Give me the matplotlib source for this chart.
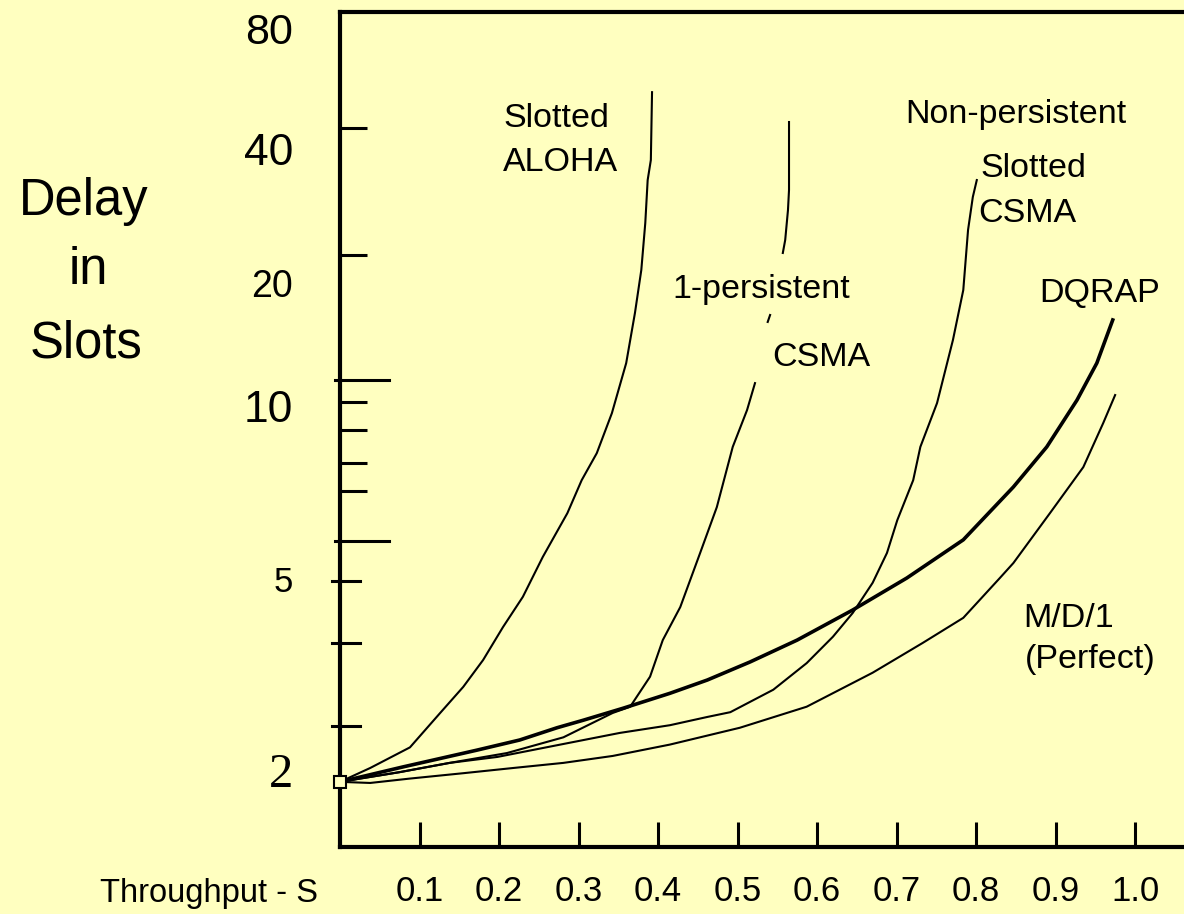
import numpy as np
import matplotlib
matplotlib.use('Agg')
import matplotlib.pyplot as plt
from matplotlib.font_manager import FontProperties, findfont

# ── data: throughput S vs delay in slots ─────────────────────────
aloha_s = [0.0, 0.038, 0.088, 0.126, 0.155, 0.180, 0.205, 0.230, 0.255, 0.286,
           0.304, 0.323, 0.342, 0.360, 0.371, 0.379, 0.384, 0.387, 0.391, 0.3925]
aloha_d = [1.89, 2.02, 2.23, 2.63, 2.98, 3.39, 3.97, 4.59, 5.46, 6.51,
           7.43, 8.28, 9.72, 12.74, 16.89, 21.39, 27.28, 34.07, 37.79, 55.4]

# 1-persistent CSMA (drawn in three pieces, gaps as NaN)
persist1_s = [0.0, 0.075, 0.138, 0.210, 0.281, 0.343, 0.365, 0.390, 0.406, 0.428,
              0.453, 0.474, 0.494, 0.512, 0.522, np.nan,
              0.538, 0.541, np.nan,
              0.557, 0.560, 0.5635, 0.5648, 0.5648]
persist1_d = [1.89, 1.98, 2.07, 2.17, 2.34, 2.63, 2.71, 3.13, 3.73, 4.37,
              5.55, 6.67, 8.49, 9.84, 11.38, np.nan,
              16.06, 16.70, np.nan,
              23.36, 24.98, 29.18, 32.36, 46.7]

nonpersist_s = [0.0, 0.075, 0.138, 0.198, 0.289, 0.352, 0.415, 0.462, 0.491, 0.545,
                0.587, 0.620, 0.645, 0.670, 0.688, 0.701, 0.721, 0.730, 0.751, 0.771,
                0.784, 0.790, 0.796, 0.801]
nonpersist_d = [1.89, 1.98, 2.07, 2.13, 2.28, 2.39, 2.48, 2.58, 2.64, 2.94,
                3.34, 3.79, 4.25, 4.91, 5.55, 6.33, 7.43, 8.49, 10.17, 14.51,
                19.22, 26.31, 31.21, 34.07]

dqrap_s = [0.0, 0.079, 0.172, 0.226, 0.273, 0.306, 0.356, 0.415, 0.462, 0.516,
           0.575, 0.645, 0.713, 0.784, 0.847, 0.889, 0.927, 0.952, 0.972]
dqrap_d = [1.89, 2.03, 2.20, 2.31, 2.45, 2.54, 2.69, 2.89, 3.08, 3.36,
           3.73, 4.31, 5.02, 5.85, 7.23, 8.49, 10.34, 12.74, 16.24]

md1_s = [0.0, 0.038, 0.088, 0.155, 0.218, 0.281, 0.343, 0.415, 0.503, 0.587,
         0.670, 0.733, 0.784, 0.830, 0.847, 0.893, 0.935, 0.960, 0.975]
md1_d = [1.89, 1.88, 1.92, 1.97, 2.02, 2.07, 2.14, 2.26, 2.45, 2.71,
         3.19, 3.68, 4.15, 5.02, 5.33, 6.51, 7.83, 9.34, 10.64]

x_ticks = [0.1, 0.2, 0.3, 0.4, 0.5, 0.6, 0.7, 0.8, 0.9, 1.0]
x_ticklabels = ['0.1', '0.2', '0.3', '0.4', '0.5', '0.6', '0.7', '0.8', '0.9', '1.0']
y_labels = [2, 5, 10, 20, 40, 80]
y_marks = [7.11, 7.96, 9.08, 10.23, 23.12, 45.11]      # short inner marks
y_marks_cross = [2.47, 3.68, 4.95]                    # marks crossing the axis
y_marks_long = [5.82, 11.58]                          # long crossing marks

# ── hand-drawn y axis: log scale stretched piecewise between labels ──
ANCHOR_V = np.log10([1.0, 2, 5, 10, 20, 40, 80, 200])
ANCHOR_P = [-0.0808, 0.0922, 0.3210, 0.5281, 0.6755, 0.8359, 0.9808, 1.1724]


def fwd(v):
    v = np.clip(np.asarray(v, dtype=float), 1e-3, None)
    return np.interp(np.log10(v), ANCHOR_V, ANCHOR_P)


def inv(p):
    return 10 ** np.interp(p, ANCHOR_P, ANCHOR_V)


BG = '#FFFFC0'
plt.rcParams['font.family'] = ['Liberation Sans', 'DejaVu Sans']

# narrow face for the x tick numbers if it is installed
narrow = 'Liberation Sans Narrow' in findfont(
    FontProperties(family='Liberation Sans Narrow'), fallback_to_default=True) \
    or 'Narrow' in findfont(FontProperties(family='Liberation Sans Narrow'))
xfont = FontProperties(family='Liberation Sans Narrow' if narrow else 'Liberation Sans',
                       size=29 if narrow else 25)

fig = plt.figure(figsize=(11.84, 9.14), dpi=100, facecolor=BG)
ax = fig.add_axes([340 / 1184, 1 - 847 / 914, 1 - 340 / 1184, 835 / 914])
ax.set_facecolor(BG)
ax.set_yscale('function', functions=(fwd, inv))
ax.set_xlim(0, 844 / 795)
ax.set_ylim(1.3826, 87.7)

ax.plot(aloha_s, aloha_d, color='black', lw=1.5)
ax.plot(persist1_s, persist1_d, color='black', lw=1.5)
ax.plot(nonpersist_s, nonpersist_d, color='black', lw=1.5)
ax.plot(md1_s, md1_d, color='black', lw=1.5)
ax.plot(dqrap_s, dqrap_d, color='black', lw=2.6)
ax.plot([0.0], [1.89], marker='s', ms=9, mfc=BG, mec='black', mew=1.5,
        clip_on=False, zorder=5)

ax.spines['right'].set_visible(False)
for side in ['left', 'top', 'bottom']:
    ax.spines[side].set_linewidth(3.0)

# x ticks
ax.set_xticks(x_ticks)
ax.set_xticklabels(x_ticklabels)
for lab in ax.get_xticklabels():
    lab.set_fontproperties(xfont.copy())
ax.tick_params(axis='x', direction='in', length=18, width=2.2, pad=20)
ax.set_xticks([], minor=True)

# y: labels as major ticks (no mark), short marks as minor ticks
ax.set_yticks(y_labels)
ax.set_yticklabels([str(v) for v in y_labels])
ax.set_yticks(y_marks, minor=True)
ax.tick_params(axis='y', which='major', length=0, pad=47 * 0.72)
ax.tick_params(axis='y', which='minor', direction='in', length=19.5, width=2.2)

# marks that stick out past the axis line
ytr = ax.get_yaxis_transform()
for v in y_marks_cross:
    ax.plot([-8 / 844, 20 / 844], [v, v], color='black', lw=2.2,
            transform=ytr, clip_on=False)
for v in y_marks_long:
    ax.plot([-5 / 844, 49 / 844], [v, v], color='black', lw=2.2,
            transform=ytr, clip_on=False)

sizes = {'2': 35, '5': 25, '10': 32, '20': 27, '40': 32, '80': 31}
for lab in ax.get_yticklabels():
    txt = lab.get_text()
    fam = 'Liberation Serif' if txt == '2' else 'Liberation Sans'
    lab.set_fontproperties(FontProperties(family=fam, size=sizes.get(txt, 30)))


def put(x, y, s, size=24.5, ha='left'):
    fig.text(x / 1184, 1 - y / 914, s, fontsize=size, ha=ha, va='baseline')


put(503, 127, 'Slotted')
put(503, 171, 'ALOHA')
put(672, 298, '1-persistent')
put(772, 366, 'CSMA')
put(905, 123, 'Non-persistent')
put(980, 177, 'Slotted')
put(978, 222, 'CSMA')
put(1039, 302, 'DQRAP')
put(1023, 627, 'M/D/1')
put(1025, 668, '(Perfect)')

put(84, 215, 'Delay', size=36.5, ha='center')
put(88, 284, 'in', size=36.5, ha='center')
put(86, 357, 'Slots', size=36.5, ha='center')
put(100, 902, 'Throughput - S', size=23.5)

fig.savefig('out.png', dpi=100, facecolor=BG)
